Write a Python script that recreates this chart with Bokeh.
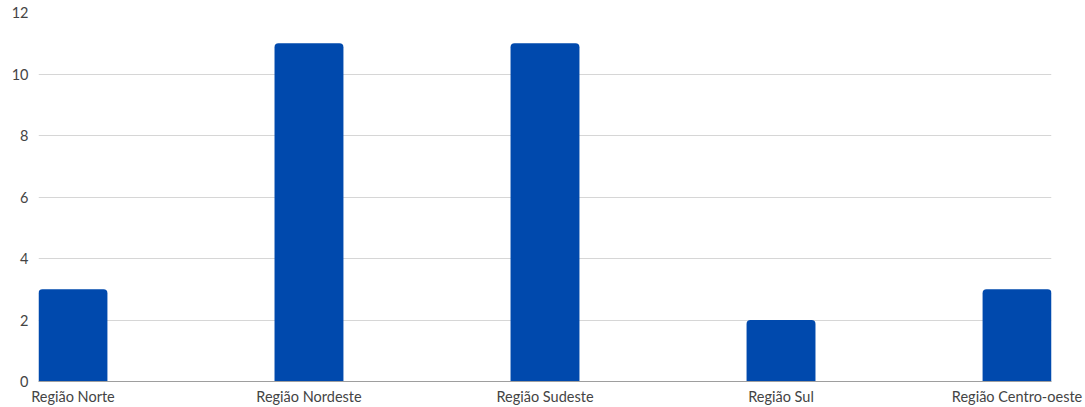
from bokeh.plotting import figure
from bokeh.models import FixedTicker, Range1d
from bokeh.embed import file_html
from bokeh.resources import INLINE

# Number of entries per Brazilian region
regions = ["Região Norte", "Região Nordeste", "Região Sudeste", "Região Sul", "Região Centro-oeste"]
counts = [3, 11, 11, 2, 3]
y_ticks = [0, 2, 4, 6, 8, 10, 12]

BAR_W = 0.292
BAR_COLOR = "#0049AD"
TEXT_COLOR = "#444444"
FONT = "Lato"

xs = list(range(len(regions)))

p = figure(
    width=1085, height=407,
    x_range=Range1d(-BAR_W / 2, xs[-1] + BAR_W / 2),
    y_range=Range1d(0, 12),
    output_backend="svg", toolbar_location=None,
    min_border_left=38, min_border_right=34,
    min_border_top=12, min_border_bottom=26,
)
p.outline_line_color = None
p.background_fill_color = "white"
p.border_fill_color = "white"

p.vbar(x=xs, top=counts, width=BAR_W, bottom=0,
       fill_color=BAR_COLOR, line_color=None,
       border_radius=(4, 4, 0, 0))

# x axis: one label centred under each bar
p.xaxis.ticker = FixedTicker(ticks=xs)
p.xaxis.major_label_overrides = {x: r for x, r in zip(xs, regions)}
p.xaxis.major_tick_line_color = None
p.xaxis.minor_tick_line_color = None
p.xaxis.major_tick_out = 0
p.xaxis.major_tick_in = 0
p.xaxis.axis_line_color = "#9e9e9e"
p.xaxis.axis_line_width = 1
p.xaxis.major_label_standoff = 6
p.xaxis.major_label_text_font = FONT
p.xaxis.major_label_text_font_size = "14.5px"
p.xaxis.major_label_text_color = TEXT_COLOR

p.yaxis.ticker = FixedTicker(ticks=y_ticks)
p.yaxis.major_tick_line_color = None
p.yaxis.minor_tick_line_color = None
p.yaxis.major_tick_out = 0
p.yaxis.major_tick_in = 0
p.yaxis.axis_line_color = None
p.yaxis.major_label_standoff = 10
p.yaxis.major_label_text_font = FONT
p.yaxis.major_label_text_font_size = "14.5px"
p.yaxis.major_label_text_color = TEXT_COLOR

p.xgrid.grid_line_color = None
p.ygrid.ticker = FixedTicker(ticks=y_ticks)
p.ygrid.grid_line_color = "#d6d6d6"
p.ygrid.grid_line_width = 1

open("out.html", "w").write(file_html(p, INLINE))
